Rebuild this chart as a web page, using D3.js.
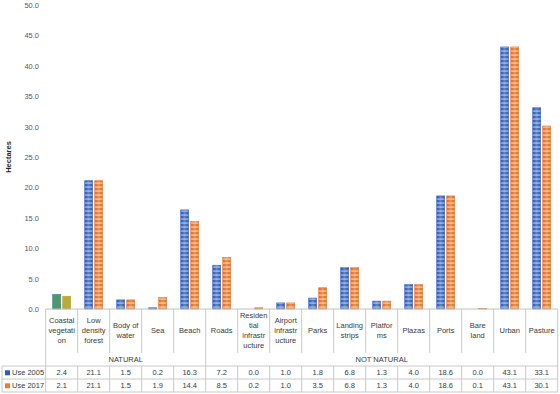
<!DOCTYPE html>
<html><head><meta charset="utf-8">
<script src="https://cdn.jsdelivr.net/npm/d3@7"></script>
<style>
html,body{margin:0;padding:0;background:#fff;}
svg{display:block;font-family:"Liberation Sans",Arial,sans-serif;}
</style></head>
<body><svg id="chart" width="560" height="394"></svg>
<script>
const categories = ["Coastal vegetation","Low density forest","Body of water","Sea","Beach","Roads","Residential infrastructure","Airport infrastructure","Parks","Landing strips","Platforms","Plazas","Ports","Bare land","Urban","Pasture"];
const categoryLines = [["Coastal","vegetati","on"],["Low","density","forest"],["Body of","water"],["Sea"],["Beach"],["Roads"],["Residen","tial","infrastr","ucture"],["Airport","infrastr","ucture"],["Parks"],["Landing","strips"],["Platfor","ms"],["Plazas"],["Ports"],["Bare","land"],["Urban"],["Pasture"]];
const groups = [{name:"NATURAL", from:0, to:4},{name:"NOT NATURAL", from:5, to:15}];
const seriesNames = ["Use 2005","Use 2017"];
const use2005 = [2.4,21.1,1.5,0.2,16.3,7.2,0.0,1.0,1.8,6.8,1.3,4.0,18.6,0.0,43.1,33.1];
const use2017 = [2.1,21.1,1.5,1.9,14.4,8.5,0.2,1.0,3.5,6.8,1.3,4.0,18.6,0.1,43.1,30.1];
const yTicks = [0,5,10,15,20,25,30,35,40,45,50];

const svg = d3.select("#chart");
const x0L = 45.7, x0R = 557.7, yTop = 5, yBase = 309;
const x = d3.scaleBand().domain(categories).range([x0L, x0R]).paddingInner(0).paddingOuter(0);
const y = d3.scaleLinear().domain([0,50]).range([yBase, yTop]);
const x1 = d3.scaleBand().domain(seriesNames).range([-9, 9]).paddingInner(0.2);
const FS = "7.5px", TXT = "#3a3a3a";

const defs = svg.append("defs");
function mkPattern(id, dark, light){
  const p = defs.append("pattern").attr("id", id).attr("patternUnits","userSpaceOnUse").attr("width",2).attr("height",4);
  p.append("rect").attr("x",0).attr("y",0).attr("width",2).attr("height",4).attr("fill",light);
  p.append("rect").attr("x",0).attr("y",0).attr("width",2).attr("height",2.2).attr("fill",dark);
}
mkPattern("pBlue", "#2a55b3", "#6d98e0");
mkPattern("pOrange", "#e0681f", "#f4a766");
const gl = defs.append("linearGradient").attr("id","gShine").attr("x1","0").attr("x2","1").attr("y1","0").attr("y2","0");
gl.append("stop").attr("offset","0").attr("stop-color","#fff").attr("stop-opacity",0);
gl.append("stop").attr("offset","0.5").attr("stop-color","#fff").attr("stop-opacity",0.28);
gl.append("stop").attr("offset","1").attr("stop-color","#fff").attr("stop-opacity",0);
const fills = {"Use 2005":"url(#pBlue)","Use 2017":"url(#pOrange)"};
const strokes = {"Use 2005":"#3a64bf","Use 2017":"#e8772c"};
const firstCatFill = {"Use 2005":"#4d9a68","Use 2017":"#b4ad38"};
const firstCatStroke = {"Use 2005":"#3a7d8a","Use 2017":"#c89a35"};
const legendColor = {"Use 2005":"#2f5ab8","Use 2017":"#ed7d31"};

const yAxis = d3.axisLeft(y).tickValues(yTicks).tickFormat(d3.format(".1f")).tickSize(0).tickPadding(0);
const ga = svg.append("g").attr("transform", `translate(39,0)`).call(yAxis);
ga.select(".domain").remove();
ga.selectAll("text").attr("fill","#595959").style("font-size",FS).style("font-family","Liberation Sans, Arial, sans-serif");

svg.append("text").attr("transform", `translate(9,${(yTop+yBase)/2}) rotate(-90)`)
  .attr("text-anchor","middle").attr("dominant-baseline","middle")
  .style("font-size",FS).style("font-weight","bold").attr("fill","#262626").text("Hectares");

const data = categories.map((c,i)=>({cat:c, i, vals:[{s:"Use 2005", v:use2005[i]},{s:"Use 2017", v:use2017[i]}]}));
const gBars = svg.append("g");
data.forEach(d=>{
  const cx = x(d.cat) + x.bandwidth()/2;
  d.vals.forEach(o=>{
    const bx = cx + x1(o.s), by = y(o.v), bw = x1.bandwidth(), bh = Math.max(0, yBase - y(o.v));
    gBars.append("rect").attr("x",bx).attr("y",by).attr("width",bw).attr("height",bh)
      .attr("fill", d.i===0 ? firstCatFill[o.s] : fills[o.s])
      .attr("stroke", d.i===0 ? firstCatStroke[o.s] : strokes[o.s])
      .attr("stroke-width", 0.6);
    if (d.i!==0) gBars.append("rect").attr("x",bx).attr("y",by).attr("width",bw).attr("height",bh).attr("fill","url(#gShine)");
  });
});

const line = "#c8c8c8";
const gt = svg.append("g");
const rowCatBottom = 353, rowGrpBottom = 366, row1Bottom = 379, row2Bottom = 392, leftX = 2;
gt.append("line").attr("x1",x0L).attr("x2",x0R).attr("y1",yBase).attr("y2",yBase).attr("stroke","#bfbfbf").attr("stroke-width",1);
categories.forEach((c,i)=>{
  const xb = x(c);
  gt.append("line").attr("x1",xb).attr("x2",xb).attr("y1",yBase).attr("y2",rowCatBottom).attr("stroke",line);
  gt.append("line").attr("x1",xb).attr("x2",xb).attr("y1",rowGrpBottom).attr("y2",row2Bottom).attr("stroke",line);
});
groups.forEach(g=>{
  const xa = x(categories[g.from]);
  gt.append("line").attr("x1",xa).attr("x2",xa).attr("y1",rowCatBottom).attr("y2",rowGrpBottom).attr("stroke",line);
  const xe = x(categories[g.to]) + x.bandwidth();
  gt.append("text").attr("x",(xa+xe)/2).attr("y",(rowCatBottom+rowGrpBottom)/2+0.5)
    .attr("text-anchor","middle").attr("dominant-baseline","middle")
    .style("font-size",FS).attr("fill",TXT).text(g.name);
});
gt.append("line").attr("x1",x0R).attr("x2",x0R).attr("y1",yBase).attr("y2",row2Bottom).attr("stroke",line);
[rowGrpBottom,row1Bottom,row2Bottom].forEach(yy=>{
  gt.append("line").attr("x1",leftX).attr("x2",x0R).attr("y1",yy).attr("y2",yy).attr("stroke",line);
});
gt.append("line").attr("x1",leftX).attr("x2",leftX).attr("y1",rowGrpBottom).attr("y2",row2Bottom).attr("stroke",line);

categories.forEach((c,i)=>{
  const lines = categoryLines[i];
  const cx = x(c) + x.bandwidth()/2;
  const lh = 10.3, cy = 331;
  const t = gt.append("text").attr("text-anchor","middle").style("font-size",FS).attr("fill",TXT);
  lines.forEach((ln,k)=>{
    t.append("tspan").attr("x",cx).attr("y", cy - (lines.length-1)*lh/2 + k*lh).attr("dominant-baseline","middle").text(ln);
  });
});
const seriesVals = [use2005, use2017];
seriesNames.forEach((s,r)=>{
  const ymid = rowGrpBottom + r*13 + 6.8;
  gt.append("rect").attr("x",5).attr("y",ymid-2.5).attr("width",5).attr("height",5).attr("fill",legendColor[s]);
  gt.append("text").attr("x",12).attr("y",ymid).attr("dominant-baseline","middle").style("font-size",FS).attr("fill",TXT).text(s);
  categories.forEach((c,i)=>{
    gt.append("text").attr("x",x(c)+x.bandwidth()/2).attr("y",ymid).attr("text-anchor","middle").attr("dominant-baseline","middle")
      .style("font-size",FS).attr("fill",TXT).text(d3.format(".1f")(seriesVals[r][i]));
  });
});
</script></body></html>
